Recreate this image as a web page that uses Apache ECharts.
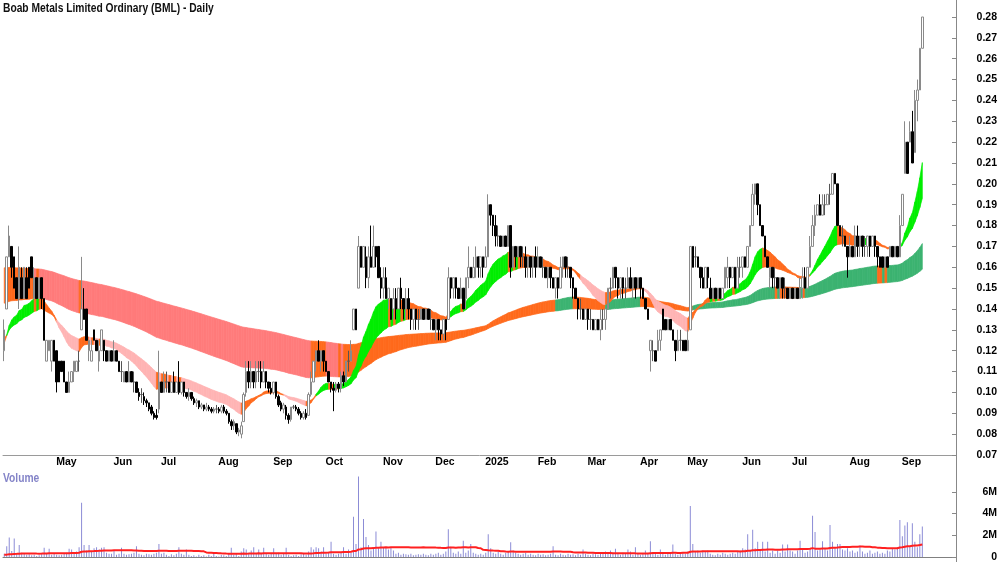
<!DOCTYPE html>
<html>
<head>
<meta charset="utf-8">
<title>BML Daily</title>
<script src="https://cdn.jsdelivr.net/npm/echarts@6.0.0/dist/echarts.min.js"></script>
<style>
  html, body { margin: 0; padding: 0; background: #fff; }
  #main { width: 1000px; height: 562px; }
</style>
</head>
<body>
<div id="main"></div>
<script>
// daily bars in cents: [open, close, low, high]
const ohlc = [
  // Apr 2024
  [12,13,11.5,13.5],[14,16.5,14,16.5],[16.5,17.5,16.5,18],[17,16,15.5,17],[16.5,15,15,16.5],
  [15.5,14.5,14.5,15.5],[14.5,16,14,17],[15.5,14.5,14.5,16],[14.5,16,14.5,16],[15.5,14.5,14.5,16],
  [16,15,15,16],[16.5,15.5,15.5,16.5],[14.5,15.5,14.5,16],[15.5,14.5,14.5,15.5],[14.5,15.5,14.5,15.5],
  [15.5,14.5,14,15.5],[14.5,12.5,12.5,14.5],[11.5,12.5,11.5,12.5],[12,12.5,12,12.5],[11.5,12.5,11,12.5],
  // May
  [12.5,11.5,11.5,12.5],[12,10.5,10,12],[11.5,10.5,10.5,11.5],[11.5,11,11,11.5],[11.5,10.5,10.5,11.5],
  [10.5,10,10,10.5],[10,10.5,10,11],[10.5,11,10.5,11],[11,11.5,10.5,11.5],[11,11.5,11,11.5],
  [11.5,11.5,11,12],[13,14,13,16.5],[14,13.5,13.5,15],[14,12.5,12.5,14],[12,12.5,11.5,12.5],
  [11.5,12,11.5,12.5],[13,12.5,12.5,13],[12.5,12,12,12.5],[11.5,12,11,12.5],[12,13,12,13],
  [12.5,12,11.5,12.5],[12,11.5,11.5,12],[11.5,12,11.5,12],
  // Jun
  [12,11.5,11.5,12],[11.5,12,11.5,12.5],[12,11.5,11.5,12],[11.5,11,11,11.5],[11,11,10.5,11.5],
  [10.5,11,10.5,11],[11,10.5,10.5,11],[10.5,11,10.5,11.5],[11,10.5,10.5,11],[10.5,10.5,10,11],
  [10.5,10,10,10.5],[10,9.8,9.6,10.2],[9.9,9.9,9.5,10.2],[9.8,9.6,9.4,10],[9.6,9.5,9.3,9.7],
  [9.5,9.2,9.1,9.5],[9.3,9,8.9,9.4],[9,8.8,8.7,9.1],[8.9,8.8,8.7,9.2],
  // Jul
  [9.2,10.5,9,12],[10.5,10,10,10.5],[10,10.5,10,11],[10.5,10.5,10,11],[10.5,10,10,10.5],
  [10,10.5,10,10.5],[10.5,10,10,11],[10,10.5,10,10.5],[10.5,10,9.9,11.5],[10,10.5,9.9,10.5],
  [10.5,10,9.8,10.5],[10,9.8,9.7,10],[9.8,10,9.6,10.2],[10,9.7,9.6,10],[9.7,9.5,9.4,9.8],
  [9.5,9.6,9.3,9.7],[9.6,9.3,9.2,9.6],[9.3,9.4,9.2,9.5],[9.4,9.2,9.1,9.4],[9.2,9.3,9.1,9.5],
  [9.3,9.2,9.1,9.4],[9.2,9.1,9,9.3],[9.1,9.2,9,9.3],
  // Aug
  [9.2,9.2,9,9.4],[9.2,9.1,9,9.3],[9.1,9.3,9,9.4],[9.3,9.1,9,9.4],[9.1,9,8.9,9.2],
  [9,8.6,8.5,9],[8.6,8.4,8.2,8.7],[8.4,8.6,8.2,8.7],[8.5,8.1,8,8.5],[8.1,8.2,7.9,8.3],
  [8,8.4,7.8,8.6],[8.6,9.9,8.6,10],[10,11,9.8,11.5],[11,10.5,10.2,11.5],[10.5,11,10.2,11.5],
  [11,10.5,10.2,11],[10.5,11,10.2,11.5],[11,11,10.5,11.5],[11,10.5,10.2,11.5],[10.5,11,10.5,11.5],
  [11,10.5,10.2,11],[10.5,10.2,10,10.5],
  // Sep
  [10.2,10,9.9,10.5],[10,10.5,9.9,10.5],[10.5,9.8,9.7,10.5],[9.8,9.4,9.3,9.9],[9.5,9.2,9.1,9.6],
  [9.2,9.4,9,9.5],[9.3,8.9,8.7,9.4],[8.9,8.7,8.5,9],[8.7,9.3,8.6,9.3],[9.3,9.3,9.2,9.4],
  [9.3,9.2,9.1,9.4],[9.2,9,8.9,9.3],[9,8.8,8.7,9.1],[8.8,9,8.7,9.1],[9,8.8,8.7,9.2],
  [8.9,9.9,8.9,10],[9.9,10.5,9.8,11],[10.5,11.5,10.5,11.5],[11.5,12,11,12],[12,11.5,11.5,12.5],
  [11.5,12,11,12],
  // Oct
  [12,11.5,11,12],[11.5,11,11,11.5],[11,10.5,10.5,11],[10.5,10.2,10,10.5],[10.2,10.1,9.1,10.5],
  [10.1,10.4,10,10.5],[10.4,10.2,10,10.5],[10.2,10.8,10,11],[10.8,10.5,10.3,11],[10.5,11.5,10.5,11.5],
  [11.5,11.5,11,12],[11.5,12,11.5,12.5],[13,14,13,14],[14,13,13,14],[15,17,15,17.5],
  [17,16,16,17],[16,17,16,17],[16.5,15.5,15,17],[15.5,16.5,15,17],[16.5,16,16,18],
  [16,17,16,18],[17,16.5,16,17],[17,15.5,15.5,17],
  // Nov
  [15.5,15,14.5,16],[15,15.5,14.5,16],[15.5,14.5,14.5,16],[14.5,15,14,15],[14.5,13.5,13.5,14.5],
  [14,14.5,13.5,15],[14.5,14,13.5,15],[14,15,14,15],[15,14.5,14,15.5],[14.5,14,13.5,14.5],
  [14,14.5,13.5,15],[14.5,14,13.5,15],[14,13.5,13,14],[13.5,14,13,14],[14,13.5,13,14],
  [13.5,13.5,13,14],[13.5,14,13.5,14],[14,13.5,13.5,14],[13.5,14,13.5,14],[14,13.5,13.5,14],
  [13.5,13.5,13,14],
  // Dec
  [13.5,13,13,13.5],[13,13.5,12.5,13.5],[13.5,13,12.5,13.5],[13,12.8,12.5,13],[12.8,13.5,12.5,13.5],
  [13.5,13,12.5,13.5],[13.5,15.5,13.5,16],[15.5,15,14.5,15.5],[15,15.5,14.5,15.5],[15.5,15,14.5,15.5],
  [15,14.5,14.5,15],[14.5,15,14.5,15.5],[15,14,14,15],[14.5,15.5,14,15.5],[15.5,16,15,17],
  [16,15.5,15.5,16],[15.5,16,15.5,16.5],[16,16.5,15.5,17],[16.5,16,15.5,16.5],[16,16.5,15.5,16.5],
  // Jan 2025
  [16.5,16,15.5,16.5],[16,16.5,16,17],[16.5,19,16.5,19.5],[19,18.5,18,19],[18.5,18,17.5,18.5],
  [18,17.5,17,18.5],[17.5,17.5,17,18],[17.5,17,17,17.5],[17,17.5,17,17.5],[17.5,17,17,17.5],
  [17,18,17,18],[18,16,15.5,18],[16,17,16,17],[17,16.5,16,17],[16.5,17,16.5,17],
  [17,16.5,16,17],[16.5,16.5,16,17],[16.5,16,15.5,17],[16,16.5,15.5,16.5],[16.5,16,15.5,16.5],
  [16,16.5,15.5,16.5],
  // Feb
  [16.5,16,15.5,17],[16,16.5,16,17],[16.5,16,16,16.5],[16,16,15.5,16.5],[16,15.5,15.5,16],
  [15.5,16,15,16],[16,15.5,15,16],[15.5,15,15,15.5],[15,15.5,14.5,15.5],[15.5,15,14.5,15.5],
  [15,16,15,16.5],[16,16.5,15.5,16.5],[16.5,16,15.5,16.5],[16,16,15.5,16.5],[16,15.5,15,16],
  [15.5,15,14.5,15.5],[15,14.5,14.5,15],[14.5,14,13.5,14.5],[14,14,13.5,14.5],[14,13.5,13.5,14],
  // Mar
  [13.5,14,13.5,14],[14,13.5,13,14],[13.5,13.5,13,14],[13.5,13,13,13.5],[13,13.5,13,13.5],
  [13.5,13,13,13.5],[13,13.5,12.5,14],[13.5,13.5,13,14],[13.5,14,13,14],[14,15,14,15],
  [15,15,14.5,15.5],[15,16,15,16],[16,15.5,15,16],[15.5,15,14.5,15.5],[15,15.5,14.5,15.5],
  [15.5,15,14.5,15.5],[15,15,14.5,15.5],[15,15.5,15,16],[15.5,15,15,16],[15,15.5,14.5,15.5],
  [15.5,15,14.5,15.5],
  // Apr
  [15,15.5,15,15.5],[15.5,15,14.5,15.5],[15,14.5,14.5,15],[14.5,14,14,14.5],[14,13.5,13.5,14],
  [12,12.5,11,12.5],[12,12,11.5,12.5],[12,11.5,11.5,12],[12,12.5,12,13],[12.5,13,12,13],
  [14,13,13,14],[13.5,13,13,13.5],[13,13.5,13,13.5],[13.5,13,13,13.5],[13,12.5,12.5,13],
  [12.5,12,11.5,12.5],[12,12.5,12,13],[12.5,12.5,12,13],[12.5,12,12,12.5],
  // May
  [12.5,12,12,12.5],[12,12.5,12,13],[13,17,13,17],[17,16,16,17],[16.5,16.5,16,17],
  [16.5,16,16,16.5],[16,15.5,15,16],[15.5,15,15,16],[15,16,15,16],[16,15.5,15,16],
  [15,14.5,14.5,15.5],[14.5,15,14.5,15],[15,14.5,14.5,15],[14.5,15,14.5,15],[15,14.5,14.5,15],
  [14.5,15,14.5,15],[15,16,15,16],[15.5,16,15,16.5],[16,15.5,15,16],[15.5,16,15.5,16],
  [16,15,15,16],[15,16,15,16.5],
  // Jun
  [16,16,15.5,16.5],[16,16.5,15.5,16.5],[16.5,16,16,16.5],[16,17,16,17],[17,18,17,18],
  [18,19.5,18,20],[19.5,20,19,20],[20,19,18.5,20],[19,18,18,19],[18,17.5,17.5,18],
  [17.5,16.5,16.5,17.5],[16.5,16,16,16.5],[15.5,16,15,16],[16,15.5,15,16],[15.5,15.5,15,16],
  [15.5,15,15,15.5],[15,15.5,14.5,15.5],[15.5,15,14.5,15.5],[15,15,14.5,15.5],[15,14.5,14.5,15],
  // Jul
  [14.5,15,14.5,15],[15,14.5,14.5,15],[14.5,15,14.5,15],[15,14.5,14.5,15],[14.5,15,14.5,15.5],
  [15,15.5,14.5,16],[15.5,15,15,16],[15,16,15,16],[16,17,16,17.5],[17,18,17,18.5],
  [18,18.5,17.5,19],[18.5,19,18.5,19],[19,18.5,18.5,19.5],[18.5,19,18.5,19.5],[19,19,18.5,19.5],
  [19,19.5,19,19.5],[19.5,19.5,19,20],[19.5,20.5,19.5,20.5],[20.5,20,20,20.5],[20,18,18,20],
  [18,17.5,17.5,18],[17.5,17.5,17,18],[17.5,17,17,17.5],
  // Aug
  [17,16.5,15.5,17],[16.5,17,16.5,17.5],[17,16.5,16.5,17],[16.5,17.5,16.5,18],[17.5,17,16.5,18],
  [17,17.5,16.5,17.5],[17.5,17,16.5,17.5],[17,17,16.5,17.5],[17,17.5,16.5,17.5],[17.5,17,16.5,17.5],
  [17,17.5,17,17.5],[17.5,17,16.5,17.5],[17,16.5,16,17],[16.5,16,16,16.5],[16.5,16,16,16.5],
  [16,16.5,16,16.5],[16.5,16,16,16.5],[16.5,17,16.5,17],[17,16.5,16.5,17],[16.5,17,16.5,17],
  [17,16.5,16.5,17],
  // Sep
  [16.5,18,16.5,18.5],[18,19.5,18,19.5],[20.5,22,20.5,23],[22,20.5,20.5,22],[22,22.5,22,23],
  [22.5,21,21,23.5],[21.5,24,21.5,24.5],[24,24.5,23,25],[24.5,26.5,24.5,26.5],[26.5,28,26.5,28]
];

// daily volume, millions of shares
const volumes = [
  0.3,1.0,1.8,0.55,1.7,0.3,1.1,0.4,0.3,0.2,0.25,0.15,0.2,0.1,0.15,0.3,0.85,0.3,0.75,0.2,
  0.3,0.2,0.15,0.2,0.3,0.4,0.75,0.7,0.3,0.5,0.9,5.0,1.1,0.6,1.1,0.5,0.8,0.9,0.7,0.85,0.9,0.4,0.3,
  0.3,0.65,0.2,0.3,0.85,0.3,0.2,0.25,0.3,0.4,1.0,0.3,0.2,0.15,0.3,0.25,0.2,0.3,0.4,
  1.2,0.3,0.4,0.2,0.1,0.25,0.15,0.3,0.9,0.3,0.2,0.7,0.2,0.1,0.15,0.05,0.2,0.1,0.15,0.05,0.2,0.1,0.3,
  0.1,0.05,0.2,0.15,0.1,0.3,0.85,0.2,0.3,0.1,0.5,0.8,0.7,0.4,0.6,0.9,0.3,0.7,0.4,0.85,0.3,0.2,
  0.3,0.8,0.3,0.4,0.2,0.3,0.85,0.2,0.1,0.15,0.2,0.1,0.25,0.3,0.2,0.5,0.9,0.7,0.9,0.8,0.5,
  0.9,0.3,0.4,1.4,0.3,0.2,0.3,0.4,0.9,0.3,0.7,0.4,3.7,1.2,7.4,0.9,3.5,1.85,1.1,0.6,0.9,2.35,0.8,
  1.4,0.9,0.9,0.7,0.9,0.6,0.3,0.4,0.2,0.3,0.25,0.2,0.3,0.15,0.2,0.25,0.2,0.3,0.2,0.15,0.3,
  0.2,0.3,0.4,0.2,0.3,0.5,2.55,0.95,0.4,0.3,0.5,0.3,1.5,0.4,0.6,1.2,0.4,0.3,0.2,0.3,
  0.2,0.4,2.1,0.8,0.4,0.3,0.5,0.3,0.2,0.4,0.5,1.35,0.6,0.4,0.3,0.2,0.3,0.4,0.2,0.3,0.2,
  0.15,0.3,0.2,0.25,0.15,0.2,0.3,1.0,0.2,0.15,0.3,0.2,0.15,0.3,0.2,0.25,0.15,0.3,0.2,0.7,
  0.3,0.2,0.15,0.3,0.25,0.2,0.3,0.4,0.5,0.3,0.6,0.4,0.75,0.3,0.2,0.4,0.3,0.7,0.5,0.2,0.9,
  0.3,0.2,0.3,0.6,0.3,1.45,0.4,0.3,0.2,0.7,0.3,0.2,0.3,0.4,1.15,0.3,0.2,0.3,0.4,
  0.3,0.5,4.7,1.2,0.5,0.6,0.4,0.6,0.5,0.6,0.3,0.2,0.15,0.3,0.2,0.4,0.3,0.2,0.3,0.4,0.3,0.5,
  0.6,0.8,0.7,2.1,0.6,2.5,0.8,1.4,0.6,1.4,0.5,1.4,0.4,0.6,0.3,0.6,0.4,1.15,0.5,1.15,
  0.6,0.5,0.3,0.6,1.5,0.7,0.4,0.5,0.8,3.8,2.3,0.6,0.7,1.45,0.8,0.6,2.95,1.4,0.8,1.2,1.2,0.7,0.6,
  0.8,0.5,0.6,0.4,0.5,1.05,0.5,0.3,0.4,0.6,0.3,0.4,0.5,0.3,0.4,0.3,0.6,0.5,0.8,0.7,0.9,
  3.4,1.9,2.9,3.2,1.0,3.1,1.4,0.9,2.1,2.8
];

const firstDay = "2024-04-02";
const asxHolidays = ["2024-04-25","2024-06-10","2024-12-25","2024-12-26","2025-01-01",
  "2025-01-27","2025-04-18","2025-04-21","2025-04-25","2025-06-09"];
const padDays = 13; // empty slots right of the last bar
const monthNames = ["Jan","Feb","Mar","Apr","May","Jun","Jul","Aug","Sep","Oct","Nov","Dec"];

// moving average ribbons (short / long groups) and where they stood before the first bar
const shortPeriods = [20, 24, 28, 32, 36, 40];
const longPeriods = [120, 140, 160, 180, 200, 240];
const shortStart = [0.123, 0.1235, 0.124, 0.1245, 0.125, 0.1255];
const longStart = [0.143, 0.146, 0.149, 0.152, 0.155, 0.16];
const shortColors = ["#ffb4b4", "#ff6a1c", "#00ee00"];   // falling, mixed, rising
const longColors = ["#ff7b7b", "#ff6a1c", "#3cb371"];

const volMaPeriod = 50;
const volMaStart = 0.2;

const FONT = "'Liberation Sans', Arial, sans-serif";

// trading calendar
function tradingDays(start, count) {
  const out = [];
  const d = new Date(start + "T00:00:00Z");
  while (out.length < count) {
    const s = d.toISOString().slice(0, 10);
    const wd = d.getUTCDay();
    if (wd !== 0 && wd !== 6 && asxHolidays.indexOf(s) < 0) out.push(s);
    d.setUTCDate(d.getUTCDate() + 1);
  }
  return out;
}
const days = tradingDays(firstDay, ohlc.length);
const categories = days.slice();
for (let k = 0; k < padDays; k++) categories.push("pad" + k);
const isMonthStart = categories.map((d, i) =>
  i > 0 && i < days.length && d.slice(0, 7) !== days[i - 1].slice(0, 7));

const candles = ohlc.map(r => {
  const [o, c, l, h] = r;
  return [o / 100, c / 100, Math.min(l, o, c) / 100, Math.max(h, o, c) / 100];
});
const closes = candles.map(r => r[1]);

function ribbon(periods, start) {
  const lines = periods.map((p, j) => {
    const k = 2 / (p + 1);
    let prev = start[j];
    return closes.map(c => (prev = prev + k * (c - prev)));
  });
  return closes.map((c, i) => {
    const now = lines.map(l => l[i]);
    const before = lines.map((l, j) => (i ? l[i - 1] : start[j]));
    const rising = now.every((v, j) => v >= before[j]);
    const falling = now.every((v, j) => v <= before[j]);
    let bull = true, bear = true;
    for (let j = 1; j < now.length; j++) {
      if (now[j - 1] < now[j]) bull = false;
      if (now[j - 1] > now[j]) bear = false;
    }
    const state = rising && bull ? 2 : falling && bear ? 0 : 1;
    return [Math.min.apply(null, now), Math.max.apply(null, now), state];
  });
}
function segments(rb) {
  const out = [];
  for (let i = 0; i < rb.length - 1; i++) {
    out.push([i, rb[i][0], rb[i][1], rb[i + 1][0], rb[i + 1][1], rb[i + 1][2]]);
  }
  return out;
}
function bandRenderer(colors) {
  return function (params, api) {
    const i = api.value(0);
    const pts = [
      api.coord([i, api.value(1)]),
      api.coord([i, api.value(2)]),
      api.coord([i + 1, api.value(4)]),
      api.coord([i + 1, api.value(3)])
    ];
    const col = colors[api.value(5)];
    return { type: "polygon", shape: { points: pts }, style: { fill: col, stroke: col, lineWidth: 0.7 } };
  };
}

const shortSegs = segments(ribbon(shortPeriods, shortStart));
const longSegs = segments(ribbon(longPeriods, longStart));

const volMa = volumes.map((v, i) => {
  let s = 0;
  for (let j = i - volMaPeriod + 1; j <= i; j++) s += j < 0 ? volMaStart : volumes[j];
  return s / volMaPeriod;
});

const chart = echarts.init(document.getElementById("main"));
const boldText = { fontFamily: FONT, fontWeight: "bold", fontSize: 10.5, color: "#000" };

chart.setOption({
  animation: false,
  backgroundColor: "#fff",
  grid: [
    { left: 3, right: 44, top: 0, height: 455, outerBoundsMode: "none" },
    { left: 3, right: 44, top: 470, height: 87, outerBoundsMode: "none" }
  ],
  xAxis: [
    {
      type: "category", gridIndex: 0, data: categories, boundaryGap: true,
      axisLine: { lineStyle: { color: "#9a9a9a", width: 1 } },
      axisTick: { alignWithLabel: true, inside: true, length: 3,
        interval: (i) => isMonthStart[i], lineStyle: { color: "#777" } },
      axisLabel: Object.assign({}, boldText, {
        interval: (i) => isMonthStart[i], align: "left", margin: 2, padding: [0, 0, 0, 2],
        formatter: (v) => {
          const m = Number(v.slice(5, 7)) - 1;
          return m === 0 ? v.slice(0, 4) : monthNames[m];
        }
      }),
      splitLine: { show: false }
    },
    {
      type: "category", gridIndex: 1, data: categories, boundaryGap: true, position: "top",
      axisLine: { lineStyle: { color: "#808080", width: 1 } },
      axisTick: { show: false }, axisLabel: { show: false }, splitLine: { show: false }
    }
  ],
  yAxis: [
    {
      type: "value", gridIndex: 0, position: "right", min: 0.07, max: 0.28815, interval: 0.01,
      axisLine: { show: true, lineStyle: { color: "#888" } },
      axisTick: { show: true, inside: true, length: 4, lineStyle: { color: "#888" } },
      axisLabel: Object.assign({}, boldText, {
        align: "right", margin: 41, showMaxLabel: false,
        formatter: (v) => v.toFixed(2)
      }),
      splitLine: { show: false }
    },
    {
      type: "value", gridIndex: 1, position: "right", min: 0, max: 8, interval: 2,
      axisLine: { show: true, lineStyle: { color: "#888" } },
      axisTick: { show: true, inside: true, length: 4, lineStyle: { color: "#888" } },
      axisLabel: Object.assign({}, boldText, {
        align: "right", margin: 41, showMaxLabel: false,
        formatter: (v) => (v === 0 ? "0" : v + "M")
      }),
      splitLine: { show: false }
    }
  ],
  graphic: [
    { type: "line", shape: { x1: 956.5, y1: 0, x2: 956.5, y2: 562 },
      style: { stroke: "#888", lineWidth: 1 }, z: 100 },
    { type: "text", x: 3, y: 2, scaleX: 0.82, z: 100,
      style: { text: "Boab Metals Limited Ordinary (BML) - Daily", fill: "#111",
        font: "bold 12.5px 'Liberation Sans', Arial, sans-serif", textVerticalAlign: "top" } },
    { type: "text", x: 3, y: 472, scaleX: 0.82, z: 100,
      style: { text: "Volume", fill: "#8484c8",
        font: "bold 12.5px 'Liberation Sans', Arial, sans-serif", textVerticalAlign: "top" } }
  ],
  series: [
    {
      type: "custom", name: "long", xAxisIndex: 0, yAxisIndex: 0,
      renderItem: bandRenderer(longColors), data: longSegs,
      encode: { x: 0, y: [1, 2, 3, 4] }, z: 1, silent: true
    },
    {
      type: "custom", name: "short", xAxisIndex: 0, yAxisIndex: 0,
      renderItem: bandRenderer(shortColors), data: shortSegs,
      encode: { x: 0, y: [1, 2, 3, 4] }, z: 2, silent: true
    },
    {
      type: "candlestick", name: "BML", xAxisIndex: 0, yAxisIndex: 0, data: candles,
      barWidth: 2, z: 5,
      itemStyle: { color: "#ffffff", color0: "#000000", borderColor: "#8a8a8a",
        borderColor0: "#000000", borderColorDoji: "#555", borderWidth: 1 }
    },
    {
      type: "bar", name: "Volume", xAxisIndex: 1, yAxisIndex: 1, data: volumes,
      barWidth: 1, itemStyle: { color: "#8c8cd6" }, z: 2
    },
    {
      type: "line", name: "Volume MA", xAxisIndex: 1, yAxisIndex: 1, data: volMa,
      showSymbol: false, symbol: "none", lineStyle: { color: "#ff2020", width: 2 }, z: 3
    }
  ]
});
</script>
</body>
</html>
